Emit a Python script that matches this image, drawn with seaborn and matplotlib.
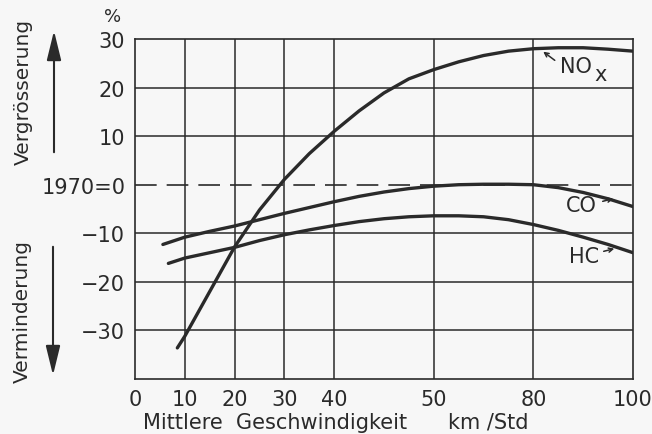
#
#   Emission changes vs. mean speed (relative to 1970)
#
import pandas as pd
import seaborn as sns
from matplotlib import pyplot as plt


# values
nox_speed = [8.5, 10, 15, 20, 25, 30, 35, 40, 45, 50, 55, 60, 65, 70, 75, 80, 85, 90, 95, 100]
nox_change = [-33.6, -31.2, -22.0, -12.8, -5.2, 1.1, 6.4, 11.0, 15.2, 18.9, 21.8, 23.7,
              25.3, 26.6, 27.5, 28, 28.2, 28.2, 27.9, 27.5]

co_speed = [5.6, 10, 15, 20, 25, 30, 35, 40, 45, 50, 55, 60, 65, 70, 75, 80, 85, 90, 95, 100]
co_change = [-12.3, -10.8, -9.6, -8.5, -7.2, -5.9, -4.7, -3.5, -2.4, -1.5, -0.8, -0.3,
             0, 0.1, 0.1, 0, -0.6, -1.6, -2.9, -4.5]

hc_speed = [6.7, 10, 15, 20, 25, 30, 35, 40, 45, 50, 55, 60, 65, 70, 75, 80, 85, 90, 95, 100]
hc_change = [-16.2, -15.1, -14, -12.9, -11.5, -10.3, -9.3, -8.4, -7.6, -7, -6.6, -6.4,
             -6.4, -6.6, -7.2, -8.2, -9.4, -10.8, -12.3, -14]

x_ticks = [0, 10, 20, 30, 40, 60, 80, 100]
x_tick_labels = ["0", "10", "20", "30", "40", "50", "80", "100"]
y_ticks = [-30, -20, -10, 0, 10, 20, 30]
y_tick_labels = ["\u221230", "\u221220", "\u221210", "1970=0", "10", "20", "30"]


ink = "#2a2a2a"
paper = "#f7f7f7"

frames = []
for name, xs, ys in [("NOx", nox_speed, nox_change),
                     ("CO", co_speed, co_change),
                     ("HC", hc_speed, hc_change)]:
    frames.append(pd.DataFrame({"speed": xs, "change": ys, "gas": name}))
df = pd.concat(frames, ignore_index=True)


sns.set_style("white")
plt.rcParams["font.family"] = ["DejaVu Sans"]

fig = plt.figure(figsize=(6.52, 4.35), dpi=100, facecolor=paper)
ax = fig.add_axes([135 / 652, 1 - 380 / 435, 498 / 652, 340 / 435])
ax.set_facecolor(paper)

# grid first so the curves sit on top
for x in x_ticks[1:-1]:
    ax.axvline(x, color=ink, lw=1.1, zorder=1)
for y in y_ticks:
    if y == 0:
        ax.axhline(y, color=ink, lw=1.2, linestyle=(0, (13, 6)), zorder=1)
    elif y < 30:
        ax.axhline(y, color=ink, lw=1.1, zorder=1)

sns.lineplot(data=df, x="speed", y="change", hue="gas",
             palette={"NOx": ink, "CO": ink, "HC": ink},
             linewidth=2.4, legend=False, ax=ax, zorder=3)

ax.set_xlim(0, 100)
ax.set_ylim(-40, 30)
ax.set_xticks(x_ticks)
ax.set_xticklabels(x_tick_labels)
ax.set_yticks(y_ticks)
ax.set_yticklabels(y_tick_labels)
ax.tick_params(length=0, labelsize=15, colors=ink)
ax.tick_params(axis="x", pad=7)
ax.tick_params(axis="y", pad=7)
ax.set_xlabel("")
ax.set_ylabel("")
for s in ax.spines.values():
    s.set_color(ink)
    s.set_linewidth(1.2)


# curve labels with small pointers
small_arrow = dict(arrowstyle="->,head_length=0.3,head_width=0.15", color=ink, lw=1.1)

fig.text(576 / 652, 1 - 67 / 435, "NO", fontsize=15, color=ink, ha="center", va="center")
fig.text(601 / 652, 1 - 75 / 435, "x", fontsize=15, color=ink, ha="center", va="center")
ax.annotate("", xy=(541 / 652, 1 - 51 / 435), xytext=(557 / 652, 1 - 63 / 435),
            xycoords="figure fraction", textcoords="figure fraction", arrowprops=small_arrow)

fig.text(581 / 652, 1 - 206 / 435, "CO", fontsize=15, color=ink, ha="center", va="center")
ax.annotate("", xy=(616 / 652, 1 - 199 / 435), xytext=(600 / 652, 1 - 203 / 435),
            xycoords="figure fraction", textcoords="figure fraction", arrowprops=small_arrow)

fig.text(584 / 652, 1 - 257 / 435, "HC", fontsize=15, color=ink, ha="center", va="center")
ax.annotate("", xy=(617 / 652, 1 - 249 / 435), xytext=(601 / 652, 1 - 253 / 435),
            xycoords="figure fraction", textcoords="figure fraction", arrowprops=small_arrow)


# axis captions
fig.text(113 / 652, 1 - 17 / 435, "%", fontsize=13, color=ink, ha="center", va="center")
fig.text(143 / 652, 1 - 423 / 435, "Mittlere  Geschwindigkeit", fontsize=15,
         color=ink, ha="left", va="center")
fig.text(448 / 652, 1 - 423 / 435, "km /Std", fontsize=15,
         color=ink, ha="left", va="center")

fig.text(23 / 652, 1 - 92 / 435, "Vergrösserung", rotation=90, fontsize=14.5,
         color=ink, ha="center", va="center")
fig.text(22 / 652, 1 - 312 / 435, "Verminderung", rotation=90, fontsize=14.5,
         color=ink, ha="center", va="center")

# arrows on the left side
big_arrow = dict(arrowstyle="-|>,head_length=0.9,head_width=0.22",
                 color=ink, lw=1.5, mutation_scale=20)
ax.annotate("", xy=(54 / 652, 1 - 29 / 435), xytext=(54 / 652, 1 - 156 / 435),
            xycoords="figure fraction", textcoords="figure fraction", arrowprops=big_arrow)
ax.annotate("", xy=(53 / 652, 1 - 379 / 435), xytext=(53 / 652, 1 - 245 / 435),
            xycoords="figure fraction", textcoords="figure fraction", arrowprops=big_arrow)


fig.savefig("out.png", dpi=100, facecolor=paper)
